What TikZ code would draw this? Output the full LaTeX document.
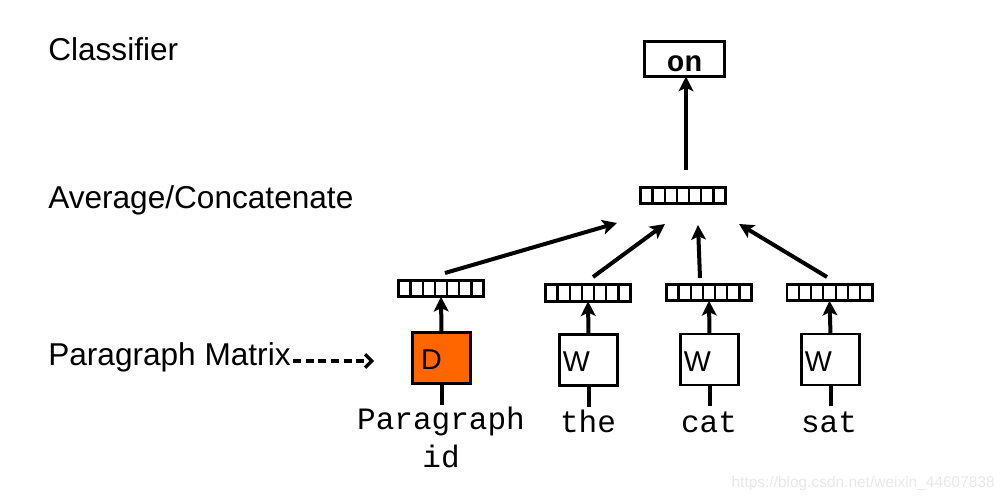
\documentclass[tikz,border=0pt]{standalone}
\usepackage{fontspec}
\setmainfont{Liberation Sans}
\setmonofont{Liberation Mono}
\usetikzlibrary{arrows.meta,calc}
\definecolor{dorange}{HTML}{FF6600}
\begin{document}
\begin{tikzpicture}[x=0.75pt,y=-0.75pt,
  lbl/.style={anchor=base west, inner sep=0, font=\fontsize{23.7}{28}\selectfont},
  vec/.style={draw, line width=2pt, minimum width=64pt, minimum height=12.4pt, inner sep=0, outer sep=0},
  wbox/.style={draw, line width=2.2pt, minimum height=38.25pt, inner ysep=0, inner xsep=#1, text width=43.5pt-2*#1, align=left, text height=18pt, text depth=0pt, outer sep=0, font=\fontsize{21.5}{24}\selectfont},
  word/.style={anchor=base, inner sep=0, font=\ttfamily\fontsize{23.3}{28}\selectfont},
  arr/.style={line width=3pt, -{Stealth[length=11pt,width=11pt,inset=2.5pt]}},
  stem/.style={line width=3pt},
  cell/.style={line width=1.6pt}
]
\useasboundingbox (0,0) rectangle (1006,498);

% left labels
\node[lbl] (cl) at (48,61) {Classifier};
\node[lbl] (ac) at (48,209) {Average/Concatenate};
\node[lbl] (pm) at (48,366) {Paragraph Matrix};

% classifier output
\node[draw, line width=2.2pt, minimum width=60pt, minimum height=26.25pt, inner sep=0, outer sep=0,
      text height=19.5pt, text depth=0pt, font=\ttfamily\bfseries\fontsize{22}{26}\selectfont] (on) at (684.5,59) {on};

% vectors
\node[vec] (va) at (683,195.5) {};
\node[vec] (vp) at (441,288.5) {};
\node[vec] (vt) at (588,293) {};
\node[vec] (vc) at (709,292.5) {};
\node[vec] (vs) at (829.5,292.5) {};
\foreach \v in {va,vp,vt,vc,vs}
  \foreach \i in {1,...,6}
    \draw[cell] ($(\v.south west)!\i/7!(\v.south east)$) -- ($(\v.north west)!\i/7!(\v.north east)$);

% matrices
\node[wbox=6.4pt, fill=dorange] (bd) at (441.5,358) {D};
\node[wbox=2.6pt] (bt) at (588.5,360) {W};
\node[wbox=2.6pt] (bc) at (709.5,359.5) {W};
\node[wbox=2.6pt] (bs) at (830.5,359.5) {W};

% input words
\node[word] (wp) at (441,430) {Paragraph};
\node[word] (wi) at (441,467) {id};
\node[word] (wt) at (588,433) {the};
\node[word] (wc) at (709,433) {cat};
\node[word] (ws) at (829,433) {sat};

% stems below boxes
\coordinate (sd) at (441.5,405);
\coordinate (st) at (588.5,407);
\coordinate (sc) at (709.5,406);
\coordinate (ss) at (830.5,406);
\draw[stem] (bd.south) -- (sd);
\draw[stem] (bt.south) -- (st);
\draw[stem] (bc.south) -- (sc);
\draw[stem] (bs.south) -- (ss);

% box -> vector arrows
\draw[arr] (bd.north) -- (vp.south);
\draw[arr] (bt.north) -- (vt.south);
\draw[arr] (bc.north) -- (vc.south);
\draw[arr] (bs.north) -- (vs.south);

% vector -> average arrows
\coordinate (p1) at (445,273);  \coordinate (q1) at (617,223);
\coordinate (p2) at (593,277);  \coordinate (q2) at (665,224);
\coordinate (p3) at (700,278);  \coordinate (q3) at (698,225);
\coordinate (p4) at (827,277);  \coordinate (q4) at (739,224);
\draw[arr] (p1) -- (q1);
\draw[arr] (p2) -- (q2);
\draw[arr] (p3) -- (q3);
\draw[arr] (p4) -- (q4);

% average -> classifier
\coordinate (p0) at (686,170);
\draw[arr] (p0) -- (on.south -| p0);

% dashed pointer
\coordinate (d0) at (293,361);
\coordinate (d1) at (374,361);
\draw[line width=2.4pt, dash pattern=on 6pt off 3.5pt, -{Straight Barb[length=5pt,width=10pt]}] (d0) -- (d1);

% watermark
\node[anchor=base east, inner sep=0, text=black!9, font=\fontsize{11.6}{14}\selectfont] (wm) at (995,487) {https://blog.csdn.net/weixin\_44607838};
\end{tikzpicture}
\end{document}
